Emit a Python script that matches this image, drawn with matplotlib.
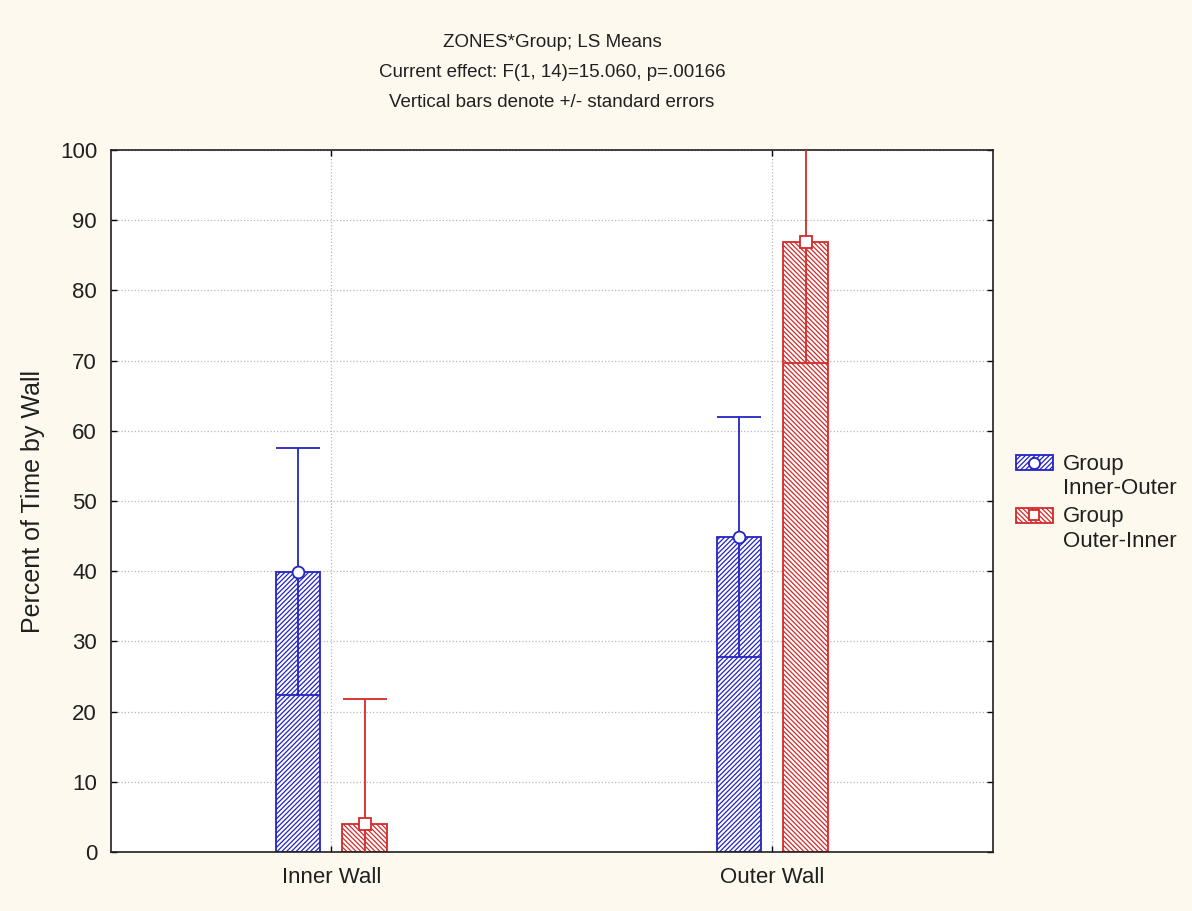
import numpy as np
import matplotlib
matplotlib.use('Agg')
import matplotlib.pyplot as plt
from matplotlib.patches import Rectangle

# data
zones = ['Inner Wall', 'Outer Wall']
groups = ['Group\nInner-Outer', 'Group\nOuter-Inner']
means_io = [39.9, 44.9]   # Group Inner-Outer
se_io = [17.6, 17.1]
means_oi = [4.0, 86.9]    # Group Outer-Inner
se_oi = [17.8, 17.2]

title_lines = ['ZONES*Group; LS Means',
               'Current effect: F(1, 14)=15.060, p=.00166',
               'Vertical bars denote +/- standard errors']

blue = '#2424C4'
red = '#D42A2A'
bg = '#FDF9EE'

plt.rcParams['font.family'] = ['Liberation Sans', 'DejaVu Sans']
plt.rcParams['hatch.linewidth'] = 0.9

fig = plt.figure(figsize=(11.92, 9.11), dpi=100, facecolor=bg)
ax = fig.add_axes([0.0931, 0.0648, 0.7399, 0.7705])
ax.set_facecolor('white')

x = np.arange(1, len(zones) + 1)
w = 0.1
off = 0.075

series = [(means_io, se_io, blue, '/' * 7, 'o', 8.5),
          (means_oi, se_oi, red, '\\' * 7, 's', 8)]

for i, (m, s, col, hat, mk, ms) in enumerate(series):
    xs = x + (-off if i == 0 else off)
    ax.bar(xs, m, width=w, facecolor='white', edgecolor=col, hatch=hat,
           linewidth=1.3, zorder=2)
    ax.errorbar(xs, m, yerr=s, fmt='none', ecolor=col, elinewidth=1.3,
                capsize=16, capthick=1.3, zorder=3)
    ax.plot(xs, m, linestyle='none', marker=mk, markersize=ms,
            markerfacecolor='white', markeredgecolor=col, markeredgewidth=1.3,
            zorder=4)

ax.set_xlim(0.5, 2.5)
ax.set_ylim(0, 100)
ax.set_xticks(x)
ax.set_xticklabels(zones, fontsize=16, color='#202020')
ax.set_yticks(np.arange(0, 101, 10))
ax.tick_params(axis='y', labelsize=16, direction='in', right=True, length=4,
               pad=10, width=1, labelcolor='#202020')
ax.tick_params(axis='x', direction='in', top=True, length=4, pad=11, width=1)
ax.grid(True, linestyle=':', color='#B8B8B8', linewidth=0.9, zorder=0)
ax.set_axisbelow(True)
for sp in ax.spines.values():
    sp.set_linewidth(1.2)
    sp.set_color('#202020')

ax.set_ylabel('Percent of Time by Wall', fontsize=18, labelpad=11,
              color='#202020')

# three title lines, 30 px apart
for k, line in enumerate(title_lines):
    fig.text(0.463, 0.953 - k * 0.033, line, ha='center', va='center',
             fontsize=13.5, color='#202020')

# legend drawn to the right of the plot
leg_y = [0.544, 0.4687]
for i, (m, s, col, hat, mk, ms) in enumerate(series):
    r = Rectangle((1.026, leg_y[i]), 0.042, 0.0215, transform=ax.transAxes,
                  facecolor='white', edgecolor=col, hatch=hat, linewidth=1.3,
                  clip_on=False)
    ax.add_patch(r)
    ax.plot([1.047], [leg_y[i] + 0.0108], transform=ax.transAxes,
            marker=mk, markersize=ms - 0.5, markerfacecolor='white',
            markeredgecolor=col, markeredgewidth=1.3, clip_on=False)
    ax.text(1.079, leg_y[i] + 0.0215 + 0.002, groups[i], transform=ax.transAxes,
            ha='left', va='top', fontsize=16, linespacing=1.2, color='#202020')

fig.savefig('out.png', dpi=100, facecolor=bg)
